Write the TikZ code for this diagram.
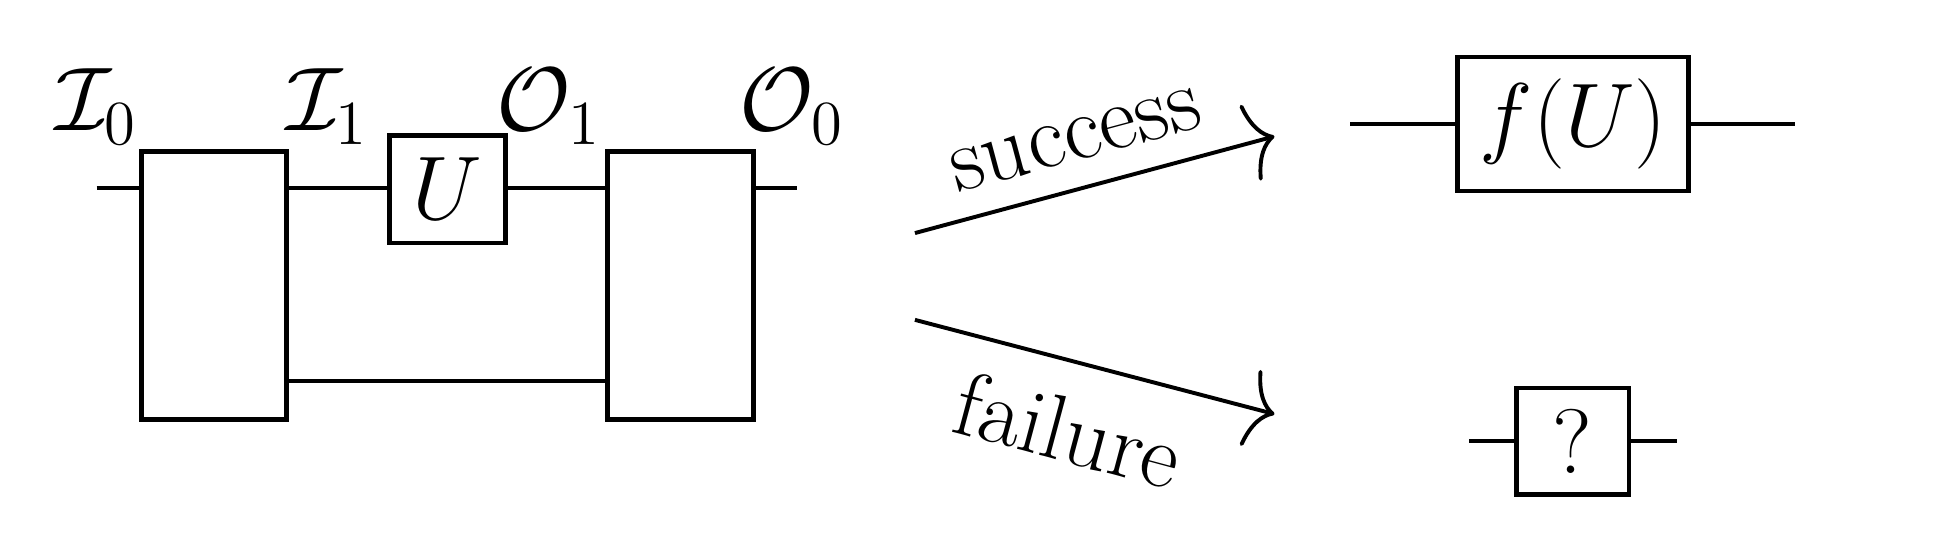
\documentclass[tikz,border=0pt]{standalone}
\usetikzlibrary{arrows.meta}
\begin{document}
\begin{tikzpicture}[x=0.01cm,y=-0.01cm,line width=0.9pt,
  bx/.style={draw,line width=1.1pt,inner sep=0pt},
  lbl/.style={font=\fontsize{21}{24}\selectfont},
  arr/.style={-{To[length=6pt,width=18pt]},line width=0.9pt}]
\useasboundingbox (0,0) rectangle (1560,448);
\node[bx,minimum width=1.17cm,minimum height=2.16cm] (A) at (172.5,230) {};
\node[bx,minimum width=1.18cm,minimum height=2.16cm] (B) at (549,230) {};
\node[bx,minimum width=0.94cm,minimum height=0.87cm,lbl] (U) at (361,152.5) {$U$};
\coordinate (w0) at (78,152);
\coordinate (w1) at (643,152);
\draw (w0) -- (w0-|A.west);
\draw (A.east|-w0) -- (U.west|-w0);
\draw (U.east|-w0) -- (B.west|-w0);
\draw (B.east|-w0) -- (w1);
\coordinate (l0) at (231,307);
\draw (l0) -- (l0-|B.west);
\node[lbl] (i0) at (78,86) {$\mathcal{I}_0$};
\node[lbl] (i1) at (264,86) {$\mathcal{I}_1$};
\node[lbl] (o1) at (443,86) {$\mathcal{O}_1$};
\node[lbl] (o0) at (639,86) {$\mathcal{O}_0$};
\coordinate (s0) at (738,188); \coordinate (s1) at (1028,110);
\coordinate (f0) at (738,258); \coordinate (f1) at (1028,334);
\draw[arr] (s0) -- (s1);
\draw[arr] (f0) -- (f1);
\node[lbl,rotate=15] (succ) at (868,113) {success};
\node[lbl,rotate=-15] (fail) at (862,347) {failure};
\node[bx,minimum width=1.86cm,minimum height=1.08cm,lbl] (F) at (1269,100) {$f(U)$};
\coordinate (fa) at (1089,100); \coordinate (fb) at (1448,100);
\draw (fa) -- (F.west); \draw (F.east) -- (fb);
\node[bx,minimum width=0.91cm,minimum height=0.86cm,lbl] (Q) at (1268.5,356) {?};
\coordinate (qa) at (1185,356); \coordinate (qb) at (1353,356);
\draw (qa) -- (Q.west); \draw (Q.east) -- (qb);
\end{tikzpicture}
\end{document}
